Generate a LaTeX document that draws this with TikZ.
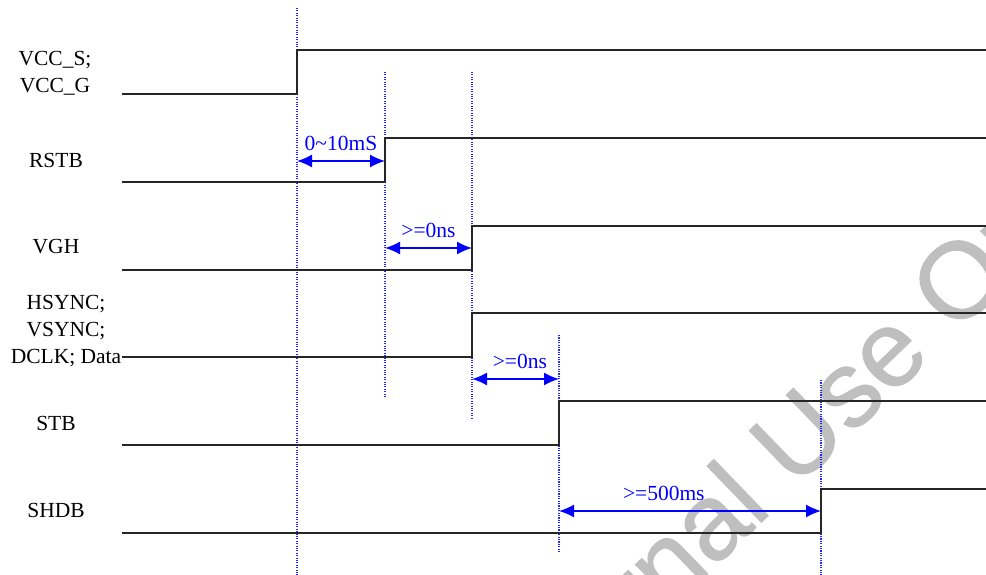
\documentclass[tikz,border=0pt]{standalone}
\usepackage{fontspec}
\setmainfont{Liberation Serif}
\newfontfamily\wmfont[FakeBold=0.9]{Liberation Sans}
\usetikzlibrary{arrows.meta}

\begin{document}
\begin{tikzpicture}[x=1pt,y=-1pt,
	sig/.style = {line width=1.3pt, black!85},
	guide/.style = {blue!85, line width=1.1pt, dash pattern=on 1.1pt off 1.3pt},
	gap/.style = {{Latex[length=15pt,width=13pt]}-{Latex[length=15pt,width=13pt]}, blue, line width=1.6pt},
	gaplbl/.style = {blue, font=\fontsize{21.5}{24}\selectfont, above=6pt},
	signame/.style = {font=\fontsize{21.5}{27}\selectfont, align=center}]
	\useasboundingbox (0,0) rectangle (986,575);
	% watermark
	\node[rotate=44, text=black!25, font=\wmfont\fontsize{108}{108}\selectfont] (wm) at (795,451) {Internal Use Only};
	% time marks
	\coordinate (t0) at (297,0);
	\coordinate (t1) at (385,0);
	\coordinate (t2) at (472,0);
	\coordinate (t3) at (559,0);
	\coordinate (t4) at (821,0);
	\draw[guide] (t0 |- 0,8) -- (t0 |- 0,575);
	\draw[guide] (t1 |- 0,72) -- (t1 |- 0,398);
	\draw[guide] (t2 |- 0,72) -- (t2 |- 0,420);
	\draw[guide] (t3 |- 0,335) -- (t3 |- 0,552);
	\draw[guide] (t4 |- 0,380) -- (t4 |- 0,575);
	% signals
	\foreach \lo/\edge in {94/297, 182/385, 270/472, 357/472, 445/559, 533/821}
		\draw[sig] (122,\lo) -- (\edge,\lo) -- (\edge,\lo-44) -- (986,\lo-44);
	\node[signame] (vcc) at (55,73) {VCC\_S;\\VCC\_G};
	\node[signame] (rstb) at (56,160) {RSTB};
	\node[signame] (vgh) at (56,247) {VGH};
	\node[signame] (sync) at (66,331) {HSYNC;\\VSYNC;\\DCLK; Data};
	\node[signame] (stb) at (56,423) {STB};
	\node[signame] (shdb) at (56,510) {SHDB};
	% delays
	\draw[gap] (t0 |- 0,161) -- node[gaplbl] (d1) {0\textasciitilde 10mS} (t1 |- 0,161);
	\draw[gap] (t1 |- 0,248) -- node[gaplbl] (d2) {>=0ns} (t2 |- 0,248);
	\draw[gap] (t2 |- 0,379) -- node[gaplbl, pos=0.55] (d3) {>=0ns} (t3 |- 0,379);
	\draw[gap] (t3 |- 0,511) -- node[gaplbl, pos=0.4] (d4) {>=500ms} (t4 |- 0,511);
\end{tikzpicture}
\end{document}
